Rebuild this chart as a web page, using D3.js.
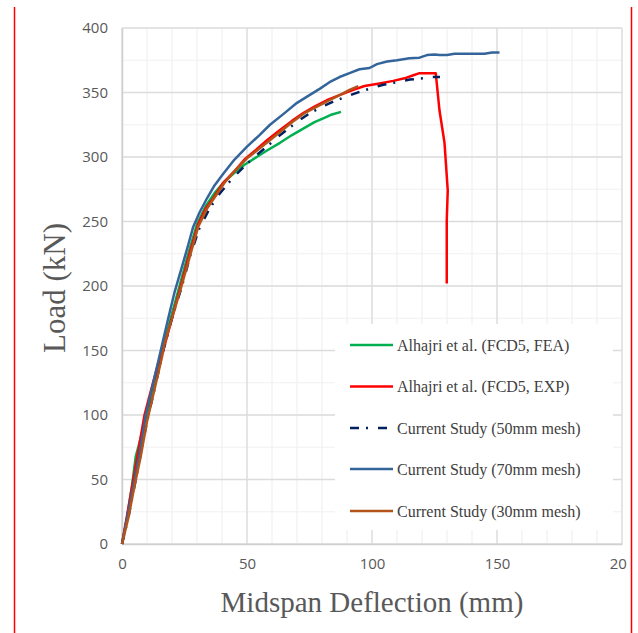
<!DOCTYPE html>
<html>
<head>
<meta charset="utf-8">
<script src="https://cdn.jsdelivr.net/npm/d3@7"></script>
<style>
  html, body { margin: 0; padding: 0; background: #fff; }
  svg { display: block; }
</style>
</head>
<body>
<svg id="chart" width="638" height="633"></svg>
<script>
// Load–deflection curves, [deflection (mm), load (kN)]
const fcd5FEA = [[0,0],[2,20],[4,45],[5.5,68],[6.5,75],[8.5,90],[10.5,105],[13,125],[16,150],[19.5,175],[23,200],[26.5,225],[30,248],[33.5,262],[37,272],[41,281],[44.5,287],[49,294],[53.9,300],[58,305],[63.2,311],[68,317],[72.5,322],[77,327],[80.5,330],[84,333],[87.6,335]];
const fcd5EXP = [[0,0],[2,22],[4.5,50],[6.5,72],[9,100],[12,122],[14.5,140],[16.5,150],[20,175],[23.5,200],[27,225],[30.5,248],[33.5,260],[36.5,268],[40.5,280],[44.5,288],[49,298],[53.9,306],[58,313],[63.2,321],[68,328],[72.5,334],[77,339],[81.9,344],[87,348],[92.5,352],[97,355],[103,357],[108.5,359],[113,361],[116,363],[119,365],[125.5,365],[127,336],[129,311],[130.3,274],[129.9,251],[129.9,202]];
const mesh50 = [[0,0],[2.5,20],[5,45],[7.5,70],[10,95],[13,120],[16.5,150],[20,175],[24,200],[27.5,225],[31,245],[35,260],[39.2,272],[44,283],[49,293],[53.5,301],[57.9,308],[62,315],[65.9,321],[70.5,328],[75.2,334],[80,339],[84.5,343],[90,347],[95.2,350.6],[100,353.5],[104.5,356],[110,358],[115.2,360],[120.5,361],[124,362],[127.2,362]];
const mesh70 = [[0,0],[2,20],[4.5,45],[7,70],[9.5,100],[12.5,125],[15.5,150],[18.5,175],[21,195],[24,215],[26.5,232],[28.5,246],[31,257],[34,268],[37,278],[40.5,287],[45,298],[50,308],[55,317],[59.2,325],[65,334],[70,342],[75,348],[79.2,353],[83,358],[87,362],[91,365],[95,368],[99,369],[102,372],[106,374],[110,375],[115,376.5],[119,377],[122,379],[125,379.5],[127,379],[130,379],[133,380],[140,380],[145,380],[148,381],[151,381]];
const mesh30 = [[0,0],[2.5,20],[5,45],[7.5,68],[10,95],[13,120],[16,145],[17,155],[20,175],[23.5,198],[27,222],[30.5,246],[34,260],[37.5,270],[41,280],[45,289],[50,299],[54,305],[57.9,311],[63,319],[68,327],[73,334],[78,339],[83,344],[88,349],[91,352],[94.5,355]];

const seriesNames = ["Alhajri et al. (FCD5, FEA)", "Alhajri et al. (FCD5, EXP)", "Current Study (50mm mesh)", "Current Study (70mm mesh)", "Current Study (30mm mesh)"];
const seriesColors = ["#00b050", "#ff0000", "#002060", "#33649a", "#b4531a"];
const seriesDash = [null, null, "9,7,2,10", null, null];
const seriesData = [fcd5FEA, fcd5EXP, mesh50, mesh70, mesh30];

const xTicks = [0, 50, 100, 150, 200];
const yTicks = [0, 50, 100, 150, 200, 250, 300, 350, 400];
const xMinor = d3.range(0, 201, 10);
const yMinor = d3.range(0, 401, 25);

const svg = d3.select("#chart");
const plotLeft = 122, plotRight = 622, plotTop = 28, plotBottom = 544;

const x = d3.scaleLinear().domain([0, 200]).range([plotLeft, plotRight]);
const y = d3.scaleLinear().domain([0, 400]).range([plotBottom, plotTop]);

// outer frame strokes
svg.append("line").attr("x1", 14.5).attr("x2", 14.5).attr("y1", 7).attr("y2", 633)
  .attr("stroke", "#ff0000").attr("stroke-width", 1.5);
svg.append("line").attr("x1", 631.5).attr("x2", 631.5).attr("y1", 7).attr("y2", 633)
  .attr("stroke", "#ff0000").attr("stroke-width", 1.5);

// minor grid
const grid = svg.append("g");
grid.selectAll(".vx").data(xMinor).join("line")
  .attr("x1", d => x(d)).attr("x2", d => x(d)).attr("y1", plotTop).attr("y2", plotBottom)
  .attr("stroke", "#f0f0f0").attr("stroke-width", 1.2);
grid.selectAll(".hy").data(yMinor).join("line")
  .attr("y1", d => y(d)).attr("y2", d => y(d)).attr("x1", plotLeft).attr("x2", plotRight)
  .attr("stroke", "#f0f0f0").attr("stroke-width", 1.2);
// major grid
grid.selectAll(".mx").data(xTicks).join("line")
  .attr("x1", d => x(d)).attr("x2", d => x(d)).attr("y1", plotTop).attr("y2", plotBottom)
  .attr("stroke", "#dcdcdc").attr("stroke-width", 1.3);
grid.selectAll(".my").data(yTicks).join("line")
  .attr("y1", d => y(d)).attr("y2", d => y(d)).attr("x1", plotLeft).attr("x2", plotRight)
  .attr("stroke", "#dcdcdc").attr("stroke-width", 1.3);

// axes
const tickFont = "'Open Sans', 'Liberation Sans', sans-serif";
svg.append("clipPath").attr("id", "xclip").append("rect")
  .attr("x", 0).attr("y", -20).attr("width", 627).attr("height", 100);

const xAxis = svg.append("g").attr("transform", `translate(0,${plotBottom})`)
  .attr("clip-path", "url(#xclip)")
  .call(d3.axisBottom(x).tickValues(xTicks).tickSize(0).tickPadding(14).tickFormat(d3.format("d")));
const yAxis = svg.append("g").attr("transform", `translate(${plotLeft},0)`)
  .call(d3.axisLeft(y).tickValues(yTicks).tickSize(0).tickPadding(14).tickFormat(d3.format("d")));
[xAxis, yAxis].forEach(a => {
  a.select(".domain").attr("stroke", "#d0d0d0").attr("stroke-width", 1.5);
  a.selectAll("text").attr("fill", "#595959").attr("font-size", 15).attr("font-family", tickFont);
});

// curves
const line = d3.line().x(d => x(d[0])).y(d => y(d[1])).curve(d3.curveLinear);
const curves = svg.append("g");
seriesData.forEach((s, i) => {
  curves.append("path").datum(s).attr("d", line)
    .attr("fill", "none").attr("stroke", seriesColors[i])
    .attr("stroke-width", 2.5).attr("stroke-linejoin", "round")
    .attr("stroke-dasharray", seriesDash[i]);
});

// legend
const legend = svg.append("g");
legend.append("rect").attr("x", 335).attr("y", 324).attr("width", 278).attr("height", 206).attr("fill", "#fff");
const legRows = [345, 386.5, 428, 469, 511];
seriesNames.forEach((name, i) => {
  legend.append("line").attr("x1", 350).attr("x2", i === 2 ? 388 : 393)
    .attr("y1", legRows[i]).attr("y2", legRows[i])
    .attr("stroke", seriesColors[i]).attr("stroke-width", 2.5)
    .attr("stroke-dasharray", seriesDash[i]);
  legend.append("text").attr("x", 397).attr("y", legRows[i]).attr("dy", "0.35em")
    .attr("font-family", "'Liberation Serif', 'Times New Roman', serif")
    .attr("font-size", 16).attr("fill", "#404040").text(name);
});

// axis titles
const titleFont = "'Liberation Serif', 'Times New Roman', serif";
svg.append("text").attr("x", (plotLeft + plotRight) / 2).attr("y", 612)
  .attr("text-anchor", "middle").attr("font-family", titleFont).attr("font-size", 29)
  .attr("fill", "#595959").text("Midspan Deflection (mm)");
svg.append("text").attr("transform", `translate(65,288) rotate(-90)`)
  .attr("text-anchor", "middle").attr("font-family", titleFont).attr("font-size", 31)
  .attr("fill", "#595959").text("Load (kN)");
</script>
</body>
</html>
